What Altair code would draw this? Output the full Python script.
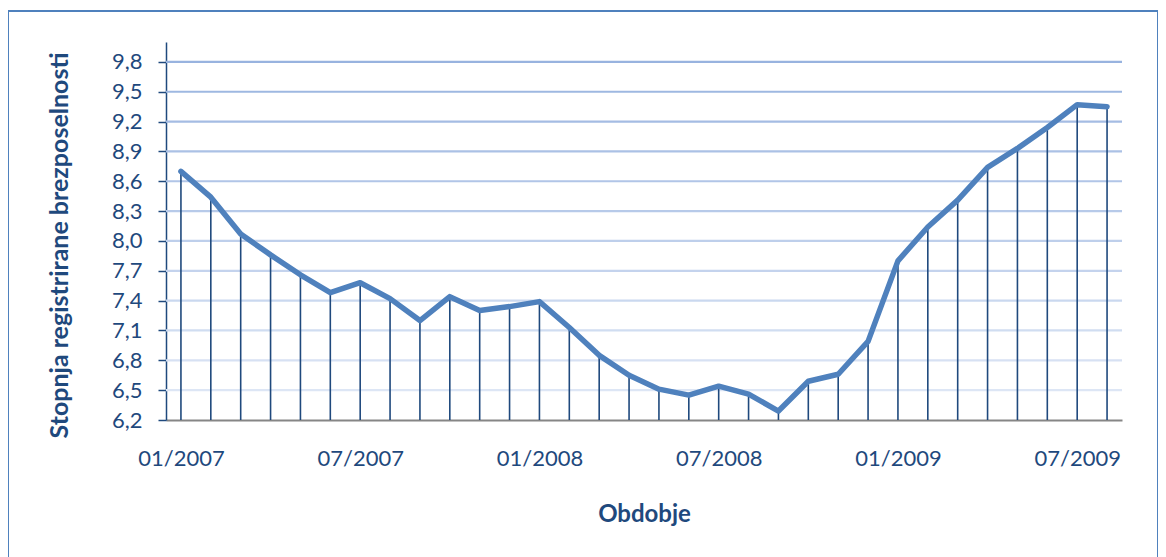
import altair as alt
import pandas as pd

months = [f"{m:02d}/{y}" for y in (2007, 2008, 2009) for m in range(1, 13)][:32]
values = [8.70, 8.44, 8.07, 7.86, 7.66, 7.48, 7.58, 7.42, 7.20, 7.44, 7.30, 7.34,
          7.39, 7.13, 6.85, 6.65, 6.51, 6.45, 6.54, 6.46, 6.29, 6.59, 6.66, 6.99,
          7.80, 8.14, 8.41, 8.74, 8.93, 9.14, 9.37, 9.35]
tick_labels = ["01/2007", "07/2007", "01/2008", "07/2008", "01/2009", "07/2009"]
y_ticks = [6.2, 6.5, 6.8, 7.1, 7.4, 7.7, 8.0, 8.3, 8.6, 8.9, 9.2, 9.5, 9.8]
grid_vals = y_ticks[1:]
y_min, y_max = 6.2, 10.0

df = pd.DataFrame({"idx": list(range(len(values))), "month": months, "v": values, "base": y_min})
grid = pd.DataFrame({"g": grid_vals})

FONT = "Lato"
DARK = "#1f497d"

label_expr = "[" + ",".join(f"'{t}'" for t in tick_labels) + "][round(datum.value/6)]"

x_enc = alt.X("idx:Q", scale=alt.Scale(domain=[-0.5, len(values) - 0.5], nice=False, zero=False),
              axis=alt.Axis(values=[0, 6, 12, 18, 24, 30], labelExpr=label_expr, title="Obdobje",
                            ticks=False, grid=False, domainColor="#868686", domainWidth=2,
                            labelFont=FONT, labelFontSize=22, labelColor=DARK, labelPadding=28,
                            titleFont=FONT, titleFontSize=24, titleFontWeight="bold",
                            titleColor=DARK, titlePadding=33))
y_scale = alt.Scale(domain=[y_min, y_max], nice=False, zero=False)
y_axis = alt.Axis(values=y_ticks, tickCount=40,
                  labelExpr="replace(format(datum.value, '.1f'), '.', ',')",
                  title="Stopnja registrirane brezposelnosti", grid=False, labelOverlap=False,
                  domainColor=DARK, domainWidth=1.5, tickColor=DARK, tickWidth=1.5, tickSize=8,
                  labelFont=FONT, labelFontSize=22, labelColor=DARK, labelPadding=16,
                  titleFont=FONT, titleFontSize=25, titleFontWeight="bold", titleColor=DARK,
                  titlePadding=39, titleY=203)

gridlines = alt.Chart(grid).mark_rule(strokeWidth=2.2).encode(
    y=alt.Y("g:Q", scale=y_scale, axis=y_axis),
    color=alt.Color("g:Q", scale=alt.Scale(domain=[6.5, 9.8], range=["#dde6f5", "#98b3df"]), legend=None),
)

drops = alt.Chart(df).mark_rule(color=DARK, strokeWidth=1.6).encode(
    x=x_enc,
    y=alt.Y("v:Q", scale=y_scale),
    y2="base:Q",
)

line = alt.Chart(df).mark_line(color="#4f81bd", strokeWidth=5.5, strokeJoin="round", strokeCap="round").encode(
    x="idx:Q",
    y="v:Q",
)

frame = alt.Chart(pd.DataFrame({"a": [0]})).mark_rect(fillOpacity=0, stroke="#4f81bd", strokeWidth=2).encode(
    x=alt.value(-158), x2=alt.value(992), y=alt.value(-31), y2=alt.value(525)
)

chart = alt.layer(frame, gridlines, drops, line).resolve_scale(color="independent").properties(
    width=956, height=378,
    padding={"left": 158, "top": 34, "right": 36, "bottom": 140},
    autosize=alt.AutoSizeParams(type="none"),
).configure(background="white").configure_view(stroke=None)

chart.save("out.html", embed_options={"renderer": "svg", "actions": False})
